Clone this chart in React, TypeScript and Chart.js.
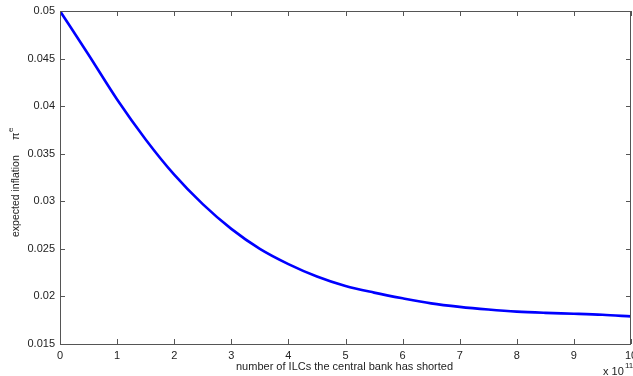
import React, { useEffect, useRef } from "react";
import { Chart, registerables } from "chart.js";

Chart.register(...registerables);

const xValues = [0, 0.5, 1, 1.5, 2, 2.5, 3, 3.5, 4, 4.5, 5, 5.5, 6, 6.5, 7, 7.5, 8, 8.5, 9, 9.5, 10];
const inflation = [0.05, 0.0454, 0.0407, 0.0365, 0.0328, 0.0297, 0.0271, 0.025, 0.0234, 0.0221, 0.0211, 0.0204, 0.0198, 0.01927, 0.0189, 0.01862, 0.0184, 0.01827, 0.01818, 0.01807, 0.0179];
const xTitle = "number of ILCs the central bank has shorted";
const yTitle = "expected inflation";
const yPi = "π";
const ySup = "e";
const xExponent = "11";

const FONT = "'Liberation Sans', Arial, Helvetica, sans-serif";
const AXIS = "#555";

const boxPlugin = {
  id: "matlabBox",
  afterDraw(chart: any) {
    const { ctx, chartArea: a, scales } = chart;
    const xs = scales.x;
    const ys = scales.y;
    ctx.save();
    ctx.strokeStyle = AXIS;
    ctx.lineWidth = 1;
    ctx.beginPath();
    ctx.rect(Math.round(a.left) + 0.5, Math.round(a.top) + 0.5, Math.round(a.right - a.left) - 1, Math.round(a.bottom - a.top));
    ctx.stroke();
    const L = 5;
    ctx.beginPath();
    xs.ticks.forEach((t: any) => {
      const px = Math.round(xs.getPixelForValue(t.value)) + 0.5;
      ctx.moveTo(px, a.bottom);
      ctx.lineTo(px, a.bottom - L);
      ctx.moveTo(px, a.top);
      ctx.lineTo(px, a.top + L);
    });
    ys.ticks.forEach((t: any) => {
      const py = Math.round(ys.getPixelForValue(t.value)) + 0.5;
      ctx.moveTo(a.left, py);
      ctx.lineTo(a.left + L, py);
      ctx.moveTo(a.right, py);
      ctx.lineTo(a.right - L, py);
    });
    ctx.stroke();

    ctx.fillStyle = "#222";
    ctx.font = `11px ${FONT}`;
    ctx.textBaseline = "alphabetic";
    ctx.textAlign = "left";
    ctx.fillText(xTitle, 236, 370);
    ctx.fillText("x 10", 603, 375);
    ctx.font = `8px ${FONT}`;
    ctx.fillText(xExponent, 625, 368);

    ctx.save();
    ctx.translate(19, 237);
    ctx.rotate(-Math.PI / 2);
    ctx.font = `10.5px ${FONT}`;
    ctx.textAlign = "left";
    ctx.fillText(yTitle, 0, 0);
    ctx.font = `11px ${FONT}`;
    ctx.fillText(yPi, 97, 0);
    ctx.font = `8px ${FONT}`;
    ctx.fillText(ySup, 105, -6);
    ctx.restore();
    ctx.restore();
  },
};

export default function App() {
  const ref = useRef<HTMLCanvasElement | null>(null);
  useEffect(() => {
    document.body.style.margin = "0";
    const canvas = ref.current!;
    const chart = new Chart(canvas, {
      type: "line",
      data: {
        datasets: [
          {
            data: xValues.map((x, i) => ({ x, y: inflation[i] })),
            borderColor: "#0000ff",
            borderWidth: 2.6,
            pointRadius: 0,
            cubicInterpolationMode: "monotone",
            fill: false,
          },
        ],
      },
      options: {
        animation: false,
        responsive: false,
        maintainAspectRatio: false,
        layout: { padding: { left: 0, top: 11, right: 2, bottom: 0 } },
        plugins: { legend: { display: false }, tooltip: { enabled: false } },
        scales: {
          x: {
            type: "linear",
            min: 0,
            max: 10,
            grid: { display: false, drawTicks: false },
            border: { display: false },
            ticks: {
              stepSize: 1,
              padding: 5,
              color: "#222",
              font: { family: FONT, size: 11 },
              maxRotation: 0,
              autoSkip: false,
            },
            afterFit: (s: any) => {
              s.height = 32;
              s.paddingLeft = 0;
              s.paddingRight = 0;
            },
          },
          y: {
            type: "linear",
            min: 0.015,
            max: 0.05,
            grid: { display: false, drawTicks: false },
            border: { display: false },
            ticks: {
              stepSize: 0.005,
              padding: 5,
              color: "#222",
              font: { family: FONT, size: 11 },
              callback: (v: any) => String(Number(Number(v).toFixed(3))),
            },
            afterFit: (s: any) => {
              s.width = 60;
              s.paddingTop = 0;
              s.paddingBottom = 0;
            },
          },
        },
      },
      plugins: [boxPlugin],
    } as any);
    return () => chart.destroy();
  }, []);
  return (
    <div style={{ position: "fixed", left: 0, top: 0, width: 633, height: 376, background: "#fff" }}>
      <canvas ref={ref} width={633} height={376} style={{ display: "block" }} />
    </div>
  );
}
